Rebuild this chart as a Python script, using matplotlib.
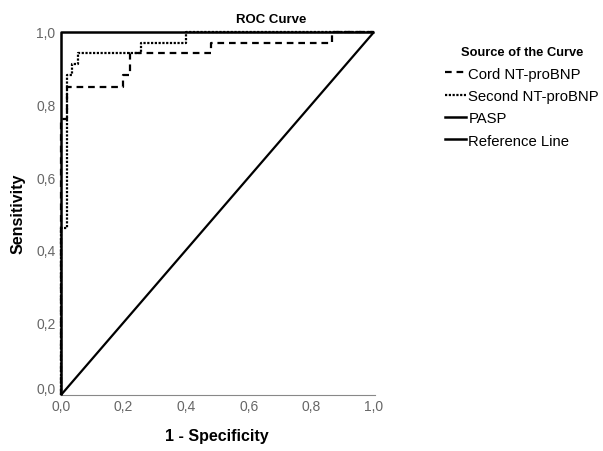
import matplotlib
matplotlib.use("Agg")
import matplotlib.pyplot as plt
from matplotlib.lines import Line2D
import matplotlib.transforms as mtrans

plt.rcParams['font.family'] = ['Liberation Sans', 'DejaVu Sans']

# Data (1 - specificity, sensitivity)
cord_x = [0.0, 0.0, 0.018, 0.018, 0.199, 0.199, 0.22, 0.22, 0.48, 0.48, 0.865, 0.865, 1.0]
cord_y = [0.0, 0.76, 0.76, 0.849, 0.849, 0.882, 0.882, 0.941, 0.941, 0.971, 0.971, 1.0, 1.0]

second_x = [0.0, 0.0, 0.018, 0.018, 0.035, 0.035, 0.054, 0.054, 0.255, 0.255, 0.40, 0.40, 1.0]
second_y = [0.0, 0.46, 0.46, 0.882, 0.882, 0.912, 0.912, 0.941, 0.941, 0.971, 0.971, 1.0, 1.0]

pasp_x = [0.0, 0.0, 1.0]
pasp_y = [0.0, 1.0, 1.0]

ref_x = [0.0, 1.0]
ref_y = [0.0, 1.0]

ticks = [0.0, 0.2, 0.4, 0.6, 0.8, 1.0]
tick_labels = ["0,0", "0,2", "0,4", "0,6", "0,8", "1,0"]

W, H = 603, 452
fig = plt.figure(figsize=(W / 100, H / 100), dpi=100)
ax = fig.add_axes([61 / W, (H - 396) / H, 313 / W, 363 / H])

ax.plot(ref_x, ref_y, color='black', lw=1.6, clip_on=False, solid_capstyle='butt', zorder=4)
ax.plot(cord_x, cord_y, color='black', lw=1.6, dashes=(3, 2.2), clip_on=False, zorder=4)
ax.plot(second_x, second_y, color='black', lw=1.6, dashes=(1, 0.7), clip_on=False, zorder=4)
ax.plot(pasp_x, pasp_y, color='black', lw=1.8, clip_on=False, solid_capstyle='butt', zorder=5)

ax.set_xlim(0, 1)
ax.set_ylim(0, 1)
for s in ['top', 'right']:
    ax.spines[s].set_visible(False)
for s in ['left', 'bottom']:
    ax.spines[s].set_color('#888888')
    ax.spines[s].set_linewidth(0.8)
ax.spines['bottom'].set_bounds(0, 1.003)

ax.set_xticks(ticks)
ax.set_xticklabels(tick_labels)
ax.set_yticks(ticks)
ax.set_yticklabels(tick_labels)
ax.tick_params(axis='both', length=0, labelsize=10, labelcolor='#666666')
ax.tick_params(axis='x', pad=3)
ax.tick_params(axis='y', pad=4)
# shift the 0,0 y label upwards as in the reference
lab0 = ax.get_yticklabels()[0]
lab0.set_transform(lab0.get_transform() + mtrans.ScaledTranslation(0, 7 / 100, fig.dpi_scale_trans))

fig.text(18 / W, 1 - 214 / H, "Sensitivity", rotation=90, ha='center', va='center',
         fontsize=11.5, fontweight='bold')
fig.text(217 / W, 1 - 437 / H, "1 - Specificity", ha='center', va='center',
         fontsize=11.5, fontweight='bold')
fig.text(271 / W, 1 - 20 / H, "ROC Curve", ha='center', va='center',
         fontsize=9.5, fontweight='bold')

handles = [
    Line2D([], [], color='black', lw=1.6, dashes=(3, 2.2)),
    Line2D([], [], color='black', lw=1.6, dashes=(1, 0.7)),
    Line2D([], [], color='black', lw=1.8),
    Line2D([], [], color='black', lw=1.8),
]
names = ["Cord NT-proBNP", "Second NT-proBNP", "PASP", "Reference Line"]
leg = fig.legend(handles, names, loc='upper left', bbox_to_anchor=(432 / W, 1 - 34 / H),
                 frameon=False, fontsize=10.7, handlelength=1.4, handletextpad=0.15,
                 labelspacing=0.56, title="Source of the Curve",
                 title_fontproperties={'weight': 'bold', 'size': 9.3})
leg._legend_box.align = 'center'

fig.savefig("out.png", dpi=100)
